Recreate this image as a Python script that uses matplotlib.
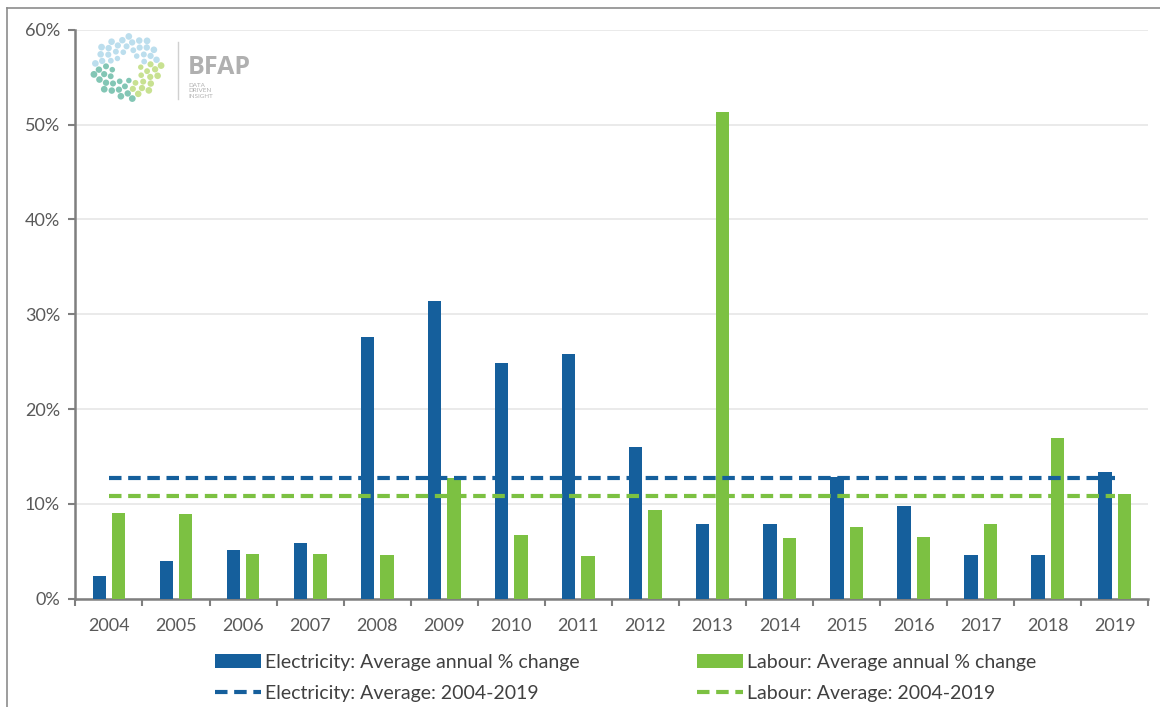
import numpy as np
import matplotlib
matplotlib.use("Agg")
import matplotlib.pyplot as plt
from matplotlib.lines import Line2D

years = ["2004", "2005", "2006", "2007", "2008", "2009", "2010", "2011",
         "2012", "2013", "2014", "2015", "2016", "2017", "2018", "2019"]
electricity = [2.4, 4.0, 5.1, 5.9, 27.6, 31.4, 24.9, 25.8,
               16.0, 7.9, 7.9, 12.8, 9.8, 4.6, 4.6, 13.4]
labour = [9.0, 8.9, 4.7, 4.7, 4.6, 12.7, 6.7, 4.5,
          9.4, 51.3, 6.4, 7.6, 6.5, 7.9, 17.0, 11.1]
elec_avg = 12.7
labour_avg = 10.8

BLUE, GREEN, GREY = "#155f9c", "#7cc142", "#595959"
plt.rcParams["font.family"] = ["Lato", "DejaVu Sans"]

fig = plt.figure(figsize=(11.6, 7.07), dpi=100)
ax = fig.add_axes([0.065, 0.153, 0.925, 0.805])

x = np.arange(len(years))
w = 0.2
ax.bar(x - 0.145, electricity, w, color=BLUE, zorder=3,
       label="Electricity: Average annual % change")
ax.bar(x + 0.145, labour, w, color=GREEN, zorder=3,
       label="Labour: Average annual % change")
ax.plot([x[0], x[-1]], [elec_avg] * 2, color=BLUE, lw=3, ls=(0, (3, 1.6)), zorder=4,
        label="Electricity: Average: 2004-2019")
ax.plot([x[0], x[-1]], [labour_avg] * 2, color=GREEN, lw=3, ls=(0, (3, 1.6)), zorder=4,
        label="Labour: Average: 2004-2019")

ax.set_xlim(-0.5, len(years) - 0.5)
ax.set_ylim(0, 60)
ax.set_yticks(np.arange(0, 61, 10))
ax.set_yticklabels([f"{v}%" for v in range(0, 61, 10)], color=GREY, fontsize=13)
ax.set_xticks(x)
ax.set_xticklabels(years, color=GREY, fontsize=13)
ax.set_xticks(np.arange(-0.5, len(years)), minor=True)
ax.tick_params(axis="x", which="major", length=0, pad=14)
ax.tick_params(axis="x", which="minor", length=5, color="#7f7f7f", width=1.5)
ax.tick_params(axis="y", length=5, color="#7f7f7f", width=1.5, pad=6)
ax.grid(axis="y", color="#e6e6e6", lw=1.2, zorder=0)
for s in ["top", "right"]:
    ax.spines[s].set_visible(False)
for s in ["left", "bottom"]:
    ax.spines[s].set_color("#7f7f7f")
    ax.spines[s].set_linewidth(1.8)

h, l = ax.get_legend_handles_labels()
order = [2, 0, 3, 1]
fig.legend([h[i] for i in order], [l[i] for i in order], ncol=2,
           loc="lower left", bbox_to_anchor=(0.170, -0.018), frameon=False,
           fontsize=14, handlelength=2.4, handletextpad=0.2, columnspacing=6.0,
           labelspacing=0.75, labelcolor="#404040")

# frame lines (left and top)
fig.add_artist(Line2D([0.006, 0.006], [0, 0.989], color="#8c8c8c", lw=1.2))
fig.add_artist(Line2D([0.006, 1.0], [0.989, 0.989], color="#8c8c8c", lw=1.2))

# BFAP logo
lax = fig.add_axes([0.074, 0.85, 0.072, 0.11])
lax.set_xlim(-1.2, 1.2)
lax.set_ylim(-1.2, 1.2)
lax.axis("off")
n = 60
k = np.arange(n)
r = np.sqrt((k + 10) / (n + 10))
th = k * 2.39996
px, py = r * np.cos(th), r * np.sin(th)
cols = np.where(py > 0.1, "#a6d3e8", np.where(px < 0.15, "#5ab49c", "#b6d86c"))
lax.scatter(px, py, s=10 + 14 * r, c=cols, alpha=0.75, lw=0)
fig.add_artist(Line2D([0.1535, 0.1535], [0.86, 0.94], color="#d0d0d0", lw=1))
fig.text(0.162, 0.905, "BFAP", fontsize=18, color="#b0b0b0", fontweight="bold",
         family="Open Sans", va="center")
fig.text(0.162, 0.883, "DATA\nDRIVEN\nINSIGHT", fontsize=4.5, color="#b0b0b0",
         va="top", linespacing=1.1)

fig.savefig("out.png", dpi=100)
